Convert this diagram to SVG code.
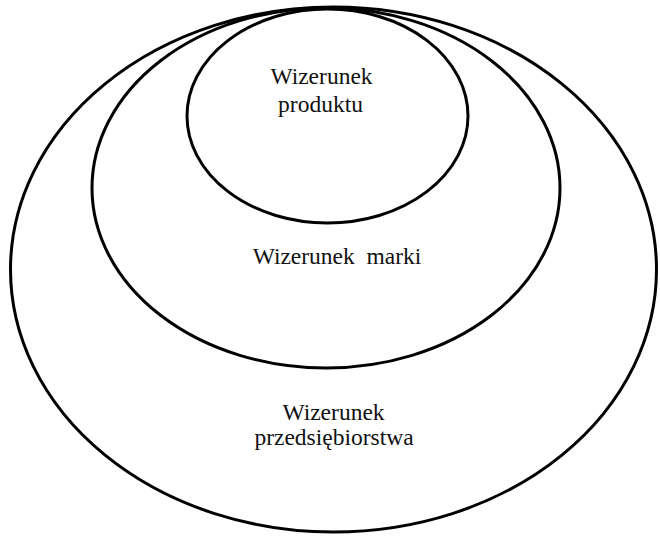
<svg xmlns="http://www.w3.org/2000/svg" width="660" height="536" viewBox="0 0 660 536">
<style>
.ring{fill:none;stroke:#000;stroke-width:3}
.lbl{font-family:"Liberation Serif","Times New Roman",serif;font-size:23.5px;fill:#111;text-anchor:middle}
</style>
<rect width="660" height="536" fill="#fff"/>
<g id="outer">
<ellipse class="ring" cx="333.5" cy="269.5" rx="323" ry="262.5"/>
<text class="lbl" x="333.5" y="419.5">Wizerunek</text>
<text class="lbl" x="334" y="444.5">przedsiębiorstwa</text>
</g>
<g id="middle">
<ellipse class="ring" cx="326" cy="188" rx="234" ry="180"/>
<text class="lbl" x="337" y="264" xml:space="preserve">Wizerunek  marki</text>
</g>
<g id="inner">
<ellipse class="ring" cx="327.5" cy="116" rx="140.5" ry="107"/>
<text class="lbl" x="321.5" y="83.5">Wizerunek</text>
<text class="lbl" x="320.5" y="111.5">produktu</text>
</g>
<g id="connectors"/>
</svg>
